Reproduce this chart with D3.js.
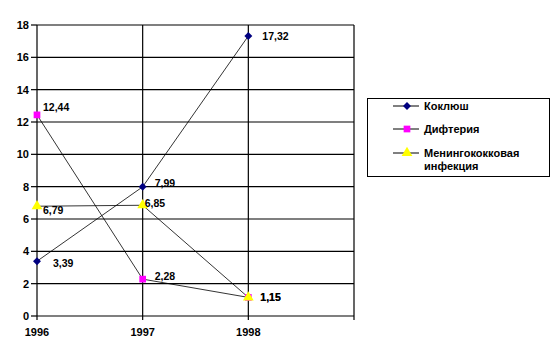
<!DOCTYPE html>
<html>
<head>
<meta charset="utf-8">
<script src="https://cdn.jsdelivr.net/npm/d3@7"></script>
<style>
  body { margin: 0; background: #fff; }
  svg { display: block; }
  text { font-family: Arial, "Liberation Sans", sans-serif; font-weight: bold; fill: #000; }
</style>
</head>
<body>
<svg width="553" height="358"></svg>
<script>
// categories (4th slot is an empty category, as in the original)
var years = ["1996", "1997", "1998", ""];
var yTicks = [0, 2, 4, 6, 8, 10, 12, 14, 16, 18];

var seriesNames = ["Коклюш", "Дифтерия", "Менингококковая инфекция"];
var koklush = [3.39, 7.99, 17.32];
var difteria = [12.44, 2.28, 1.15];
var meningo = [6.79, 6.85, 1.15];

var colors = ["#000080", "#ff00ff", "#ffff00"];
var shapes = [d3.symbolDiamond2 || d3.symbolDiamond, d3.symbolSquare, d3.symbolTriangle];
var sizes = [40, 45, 50];

// label nudges (dx, dy) per point, hand placed like in the original
// (the last meningo label sits right under the diphtheria one, as in Excel)
var labelOffsets = [
    [[16, 6], [12, 0], [14, 4]],
    [[6, -4], [12, 1], [12, 4]],
    [[6, 8], [2, 2], [12, 4]]
];

var svg = d3.select("svg");
// plot box (not "top" - that one is window.top)
var pL = 37, pR = 354, pT = 25, pB = 316;

var x = d3.scalePoint().domain(d3.range(years.length)).range([pL, pR]);
var y = d3.scaleLinear().domain([0, 18]).range([pB, pT]);

var series = [koklush, difteria, meningo];

// horizontal grid
svg.append("g")
    .selectAll("line")
    .data(yTicks)
    .join("line")
    .attr("x1", pL).attr("x2", pR)
    .attr("y1", function(d) { return y(d); })
    .attr("y2", function(d) { return y(d); })
    .attr("stroke", "#000").attr("stroke-width", 1.2);

// vertical grid (category lines)
svg.append("g")
    .selectAll("line")
    .data(d3.range(years.length))
    .join("line")
    .attr("x1", function(d) { return x(d); })
    .attr("x2", function(d) { return x(d); })
    .attr("y1", pT).attr("y2", pB + 4)
    .attr("stroke", "#000").attr("stroke-width", 1.2);

// y axis ticks + labels
var ya = svg.append("g");
ya.selectAll("line")
    .data(yTicks)
    .join("line")
    .attr("x1", pL - 6).attr("x2", pL)
    .attr("y1", function(d) { return y(d); })
    .attr("y2", function(d) { return y(d); })
    .attr("stroke", "#000").attr("stroke-width", 1.2);
ya.selectAll("text")
    .data(yTicks)
    .join("text")
    .attr("x", pL - 8)
    .attr("y", function(d) { return y(d) + 4; })
    .attr("text-anchor", "end")
    .style("font-size", "11px")
    .text(function(d) { return d; });

// x labels
svg.append("g")
    .selectAll("text")
    .data(years)
    .join("text")
    .attr("x", function(d, i) { return x(i); })
    .attr("y", pB + 20)
    .attr("text-anchor", "middle")
    .style("font-size", "11px")
    .text(function(d) { return d; });

// lines
var line = d3.line()
    .x(function(d, i) { return x(i); })
    .y(function(d) { return y(d); });

series.forEach(function(s, k) {
    svg.append("path")
        .datum(s)
        .attr("d", line)
        .attr("fill", "none")
        .attr("stroke", "#000")
        .attr("stroke-width", 0.8);
});

// markers
series.forEach(function(s, k) {
    svg.append("g")
        .selectAll("path")
        .data(s)
        .join("path")
        .attr("transform", function(d, i) { return "translate(" + x(i) + "," + y(d) + ")"; })
        .attr("d", d3.symbol().type(shapes[k]).size(sizes[k]))
        .attr("fill", colors[k]);
});

// data labels - drawn meningo first so diphtheria's 1,15 lands on top
[2, 1, 0].forEach(function(k) {
    svg.append("g")
        .selectAll("text")
        .data(series[k])
        .join("text")
        .attr("x", function(d, i) { return x(i) + labelOffsets[k][i][0]; })
        .attr("y", function(d, i) { return y(d) + labelOffsets[k][i][1]; })
        .style("font-size", "10.5px")
        .text(function(d) { return d.toFixed(2).replace(".", ","); });
});

// legend
var lg = svg.append("g");
lg.append("rect")
    .attr("x", 367.5).attr("y", 98.5)
    .attr("width", 182).attr("height", 78)
    .attr("fill", "#fff").attr("stroke", "#000");

var rowY = [106, 129, 153];
seriesNames.forEach(function(name, k) {
    lg.append("line")
        .attr("x1", 393).attr("x2", 419)
        .attr("y1", rowY[k]).attr("y2", rowY[k])
        .attr("stroke", "#000").attr("stroke-width", 1);
    lg.append("path")
        .attr("transform", "translate(407," + rowY[k] + ")")
        .attr("d", d3.symbol().type(shapes[k]).size(sizes[k]))
        .attr("fill", colors[k]);
    var t = lg.append("text")
        .attr("x", 424)
        .attr("y", rowY[k] + 4)
        .style("font-size", "11px");
    var parts = name.split(" ");
    t.append("tspan").text(parts[0]);
    if (parts[1]) {
        t.append("tspan").attr("x", 424).attr("dy", 13).text(parts[1]);
    }
});
</script>
</body>
</html>
